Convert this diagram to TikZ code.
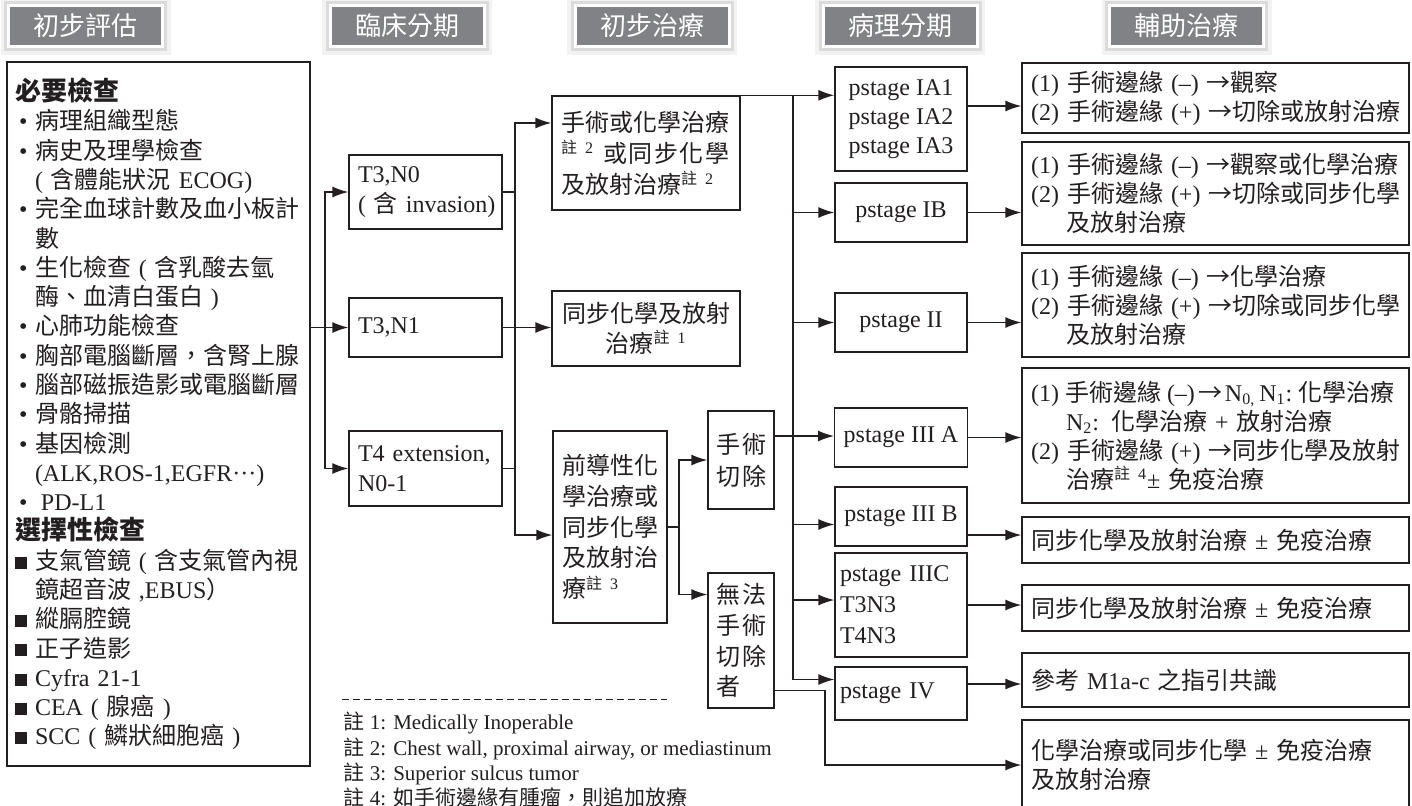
\documentclass[tikz,border=0pt]{standalone}
\usepackage{fontspec}
\setmainfont{Liberation Serif}
\newfontfamily\cjkreg{Noto Sans CJK TC}
\usepackage{tikz}
\usetikzlibrary{arrows.meta}

\definecolor{hdrgray}{RGB}{128,130,133}
\definecolor{ink}{RGB}{35,31,32}

% Han characters and full-width signs switch to the CJK font by themselves
\XeTeXinterchartokenstate=1
\newXeTeXintercharclass\cjkclass
\makeatletter
\count@="3000
\loop\ifnum\count@<"A000 \XeTeXcharclass\count@=\cjkclass \advance\count@\@ne\repeat
\count@="FF00
\loop\ifnum\count@<"FFF0 \XeTeXcharclass\count@=\cjkclass \advance\count@\@ne\repeat
\makeatother
\XeTeXcharclass"2192=\cjkclass
\XeTeXinterchartoks 0 \cjkclass = {\begingroup\cjkreg}
\XeTeXinterchartoks 4095 \cjkclass = {\begingroup\cjkreg}
\XeTeXinterchartoks \cjkclass 0 = {\endgroup}
\XeTeXinterchartoks \cjkclass 4095 = {\endgroup}

\newcommand\bul{\makebox[10pt][l]{\hspace{2pt}\textbullet}}
\newcommand\blk{\makebox[10pt][l]{\rule[0.3pt]{6pt}{6pt}}}
\newcommand\indt{\hspace*{10pt}}
\newcommand\zhu[1]{\textsuperscript{註 #1}}

\begin{document}
\begin{tikzpicture}[x=0.5pt, y=-0.5pt, line width=0.7pt, color=ink,
    font=\fontsize{12}{15}\selectfont,
    hdr/.style={fill=hdrgray, draw=white, line width=1.5pt, text=white,
      minimum width=77pt, minimum height=20.5pt, inner sep=0pt,
      font=\fontsize{13}{13}\selectfont,
      preaction={draw=black!5, line width=8pt},
      preaction={draw=black!14, line width=4.5pt}},
    box/.style={draw, inner sep=0pt, inner xsep=4.5pt},
    stagebox/.style={box, minimum width=76.5pt, text width=67.5pt, align=left},
    txbox/.style={box, minimum width=94pt, text width=85pt},
    narrowbox/.style={box, minimum width=33pt, inner xsep=4pt, text width=25pt, align=left},
    pbox/.style={box, minimum width=66pt, align=center},
    rbox/.style={box, minimum width=193.5pt, text width=184.5pt, align=left,
      font=\fontsize{12}{14.5}\selectfont},
    link/.style={-{Latex[length=8pt,width=5.5pt]}}]

    \fill[white] (0,0) rectangle (1412,805);
    \useasboundingbox (0,0) rectangle (1412,805);

    % column headers
    \foreach \x/\lbl [count=\i] in {85.5/初步評估, 407/臨床分期, 652/初步治療, 900/病理分期, 1186.5/輔助治療}
    \node[hdr] (hdr\i) at (\x,26) {\lbl};

    % work-up
    \node[box, minimum width=151.5pt, minimum height=352pt, inner xsep=4pt, text width=143.5pt, align=left,
      font=\fontsize{12}{14.64}\selectfont] (exams) at (158.5,414) {%
      {\fontsize{13}{14.64}\selectfont\bfseries 必要檢查}\\
      \bul 病理組織型態\\
      \bul 病史及理學檢查\\
      \indt ( 含體能狀況 ECOG)\\
      \bul 完全血球計數及血小板計\\
      \indt 數\\
      \bul 生化檢查 ( 含乳酸去氫\\
      \indt 酶、血清白蛋白 )\\
      \bul 心肺功能檢查\\
      \bul 胸部電腦斷層，含腎上腺\\
      \bul 腦部磁振造影或電腦斷層\\
      \bul 骨骼掃描\\
      \bul 基因檢測\\
      \indt (ALK,ROS-1,EGFR···)\\
      \bul \hspace{3pt}PD-L1\\
      {\fontsize{13}{14.64}\selectfont\bfseries 選擇性檢查}\\
      \blk 支氣管鏡 ( 含支氣管內視\\
      \indt 鏡超音波 ,EBUS）\\
      \blk 縱膈腔鏡\\
      \blk 正子造影\\
      \blk Cyfra 21-1\\
      \blk CEA ( 腺癌 )\\
      \blk SCC ( 鱗狀細胞癌 )};

    % clinical stage
    \node[stagebox, minimum height=37pt] (t3n0) at (425.5,192) {T3,N0\\\mbox{( 含 invasion)}};
    \node[stagebox, minimum height=29.5pt] (t3n1) at (425.5,327.5) {T3,N1};
    \node[stagebox, minimum height=37.5pt] (t4) at (425.5,468.5) {T4 extension,\\N0-1};

    % first treatment
    \node[txbox, minimum height=57pt, align=left, font=\fontsize{12}{15.5}\selectfont] (surg) at (646,153)
      {手術或化學治療\\\makebox[84pt][s]{\zhu{2}\hspace{4pt}\hfill 或\hfill 同\hfill 步\hfill 化\hfill 學}\\及放射治療\zhu{2}};
    \node[txbox, minimum height=37.5pt, align=center] (ccrt) at (646,328.5) {同步化學及放射\\治療\zhu{1}};
    \node[box, minimum width=57pt, minimum height=96pt, text width=48pt, align=left,
      font=\fontsize{12}{15.4}\selectfont] (neo) at (610,527) {前導性化\\學治療或\\同步化學\\及放射治\\療\zhu{3}};
    \node[narrowbox, minimum height=49pt, font=\fontsize{12}{16}\selectfont] (resect) at (741,460)
      {手\hspace{1pt}術\\切\hspace{1pt}除};
    \node[narrowbox, minimum height=67.5pt, font=\fontsize{12}{15.3}\selectfont] (unres) at (741,640.5)
      {無\hspace{1pt}法\\手\hspace{1pt}術\\切\hspace{1pt}除\\者};

    % pathological stage
    \node[pbox, minimum height=52pt, align=left, font=\fontsize{12}{14.5}\selectfont] (pIA) at (901,119)
      {pstage IA1\\pstage IA2\\pstage IA3};
    \node[pbox, minimum height=29.5pt] (pIB) at (901,212.5) {pstage IB};
    \node[pbox, minimum height=29.5pt] (pII) at (901,322.5) {pstage II};
    \node[pbox, minimum height=29.5pt] (pIIIA) at (901,437.5) {pstage III A};
    \node[pbox, minimum height=29.5pt] (pIIIB) at (901,516.5) {pstage III B};
    \node[pbox, minimum height=52pt, inner xsep=2.5pt, text width=61pt, align=left,
      font=\fontsize{12}{15.5}\selectfont] (pIIIC) at (901,605) {pstage IIIC\\T3N3\\T4N3};
    \node[pbox, minimum height=26.5pt, inner xsep=2.5pt, text width=61pt, align=left] (pIV) at (901,693.5) {pstage IV};

    % adjuvant treatment
    \node[rbox, minimum height=35pt] (r1) at (1215.5,98)
      {(1) 手術邊緣 (–) →觀察\\\mbox{(2) 手術邊緣 (+) →切除或放射治療}};
    \node[rbox, minimum height=51.5pt] (r2) at (1215.5,193.5)
      {\mbox{(1) 手術邊緣 (–) →觀察或化學治療}\\\mbox{(2) 手術邊緣 (+) →切除或同步化學}\\\indt\hspace*{7.5pt}及放射治療};
    \node[rbox, minimum height=52pt] (r3) at (1215.5,305)
      {(1) 手術邊緣 (–) →化學治療\\\mbox{(2) 手術邊緣 (+) →切除或同步化學}\\\indt\hspace*{7.5pt}及放射治療};
    \node[rbox, minimum height=67.5pt] (r4) at (1215.5,435.5)
      {\mbox{(1)\hspace{3pt}手術邊緣\hspace{3pt}(–)\hspace{2pt}→\hspace{1pt}N\textsubscript{0,}\hspace{2pt}N\textsubscript{1}:\hspace{3pt}化學治療}\\
       \indt\hspace*{7.5pt}N\textsubscript{2}: 化學治療 + 放射治療\\
       \mbox{(2) 手術邊緣 (+) →同步化學及放射}\\
       \indt\hspace*{7.5pt}治療\zhu{4}± 免疫治療};
    \node[rbox, minimum height=23pt] (r5) at (1215.5,540) {同步化學及放射治療 ± 免疫治療};
    \node[rbox, minimum height=23pt] (r6) at (1215.5,608) {同步化學及放射治療 ± 免疫治療};
    \node[rbox, minimum height=27pt] (r7) at (1215.5,680) {參考 M1a-c 之指引共識};
    \node[rbox, minimum height=45pt] (r8) at (1215.5,765) {化學治療或同步化學 ± 免疫治療\\及放射治療};

    % notes
    \coordinate (sepL) at (342,699);
    \coordinate (sepR) at (667,699);
    \draw[line width=0.5pt, dash pattern=on 3.3pt off 2.2pt] (sepL) -- (sepR);
    \node[anchor=north west, inner sep=0pt, align=left, font=\fontsize{10.5}{12.67}\selectfont] (notes) at (343,711.5)
      {註 1: Medically Inoperable\\註 2: Chest wall, proximal airway, or mediastinum\\註 3: Superior sulcus tumor\\註 4: 如手術邊緣有腫瘤，則追加放療};

    % work-up to clinical stage
    \coordinate (jA) at (325,328);
    \draw[link] (exams.east |- t3n1) -- (t3n1);
    \draw[link] (jA) |- (t3n0);
    \draw[link] (jA) |- (t4);

    % clinical stage to first treatment
    \coordinate (jB) at (515,192);
    \coordinate (surgIn) at ([yshift=15pt]surg.west);
    \coordinate (neoIn) at ([yshift=-4pt]neo.west);
    \draw (t3n0) -- (jB);
    \draw (t4) -- (t4 -| jB);
    \draw[link] (jB) |- (surgIn);
    \draw[link] (jB) |- (neoIn);
    \draw[link] (t3n1) -- (t3n1 -| ccrt.west);

    % induction to surgery or not
    \coordinate (jC) at (679,527);
    \coordinate (unresIn) at ([yshift=23pt]unres.west);
    \draw (neo) -- (jC);
    \draw[link] (jC) |- (resect);
    \draw[link] (jC) |- (unresIn);

    % surgery to pathological stage
    \coordinate (jD) at (793,96);
    \coordinate (pIIIBIn) at ([yshift=-4pt]pIIIB.west);
    \coordinate (pIIICIn) at ([yshift=2.5pt]pIIIC.west);
    \coordinate (pIVIn) at ([yshift=7pt]pIV.west);
    \coordinate (resectOut) at ([yshift=12pt]resect.east);
    \draw[link] (surg.north east) -- (surg.north east -| pIA.west);
    \draw[link] (jD) |- (pIVIn);
    \draw[link] (jD |- pIB) -- (pIB);
    \draw[link] (jD |- pII) -- (pII);
    \draw[link] (jD |- pIIIBIn) -- (pIIIBIn);
    \draw[link] (jD |- pIIICIn) -- (pIIICIn);
    \draw[link] (resectOut) -- (resectOut -| pIIIA.west);

    % no surgery
    \coordinate (unresOut) at ([yshift=-25pt]unres.east);
    \coordinate (jE) at (825,765);
    \draw[link] (unresOut) -| (jE) -- (r8);

    % pathological stage to adjuvant treatment
    \coordinate (pIAOut) at ([yshift=6.5pt]pIA.east);
    \coordinate (pIIIBOut) at ([yshift=-9.25pt]pIIIB.east);
    \coordinate (pIVOut) at ([yshift=4.75pt]pIV.east);
    \draw[link] (pIAOut) -- (pIAOut -| r1.west);
    \draw[link] (pIB) -- (pIB -| r2.west);
    \draw[link] (pII) -- (pII -| r3.west);
    \draw[link] (pIIIA) -- (pIIIA -| r4.west);
    \draw[link] (pIIIBOut) -- (pIIIBOut -| r5.west);
    \draw[link] (pIIIC) -- (pIIIC -| r6.west);
    \draw[link] (pIVOut) -- (pIVOut -| r7.west);
\end{tikzpicture}
\end{document}
